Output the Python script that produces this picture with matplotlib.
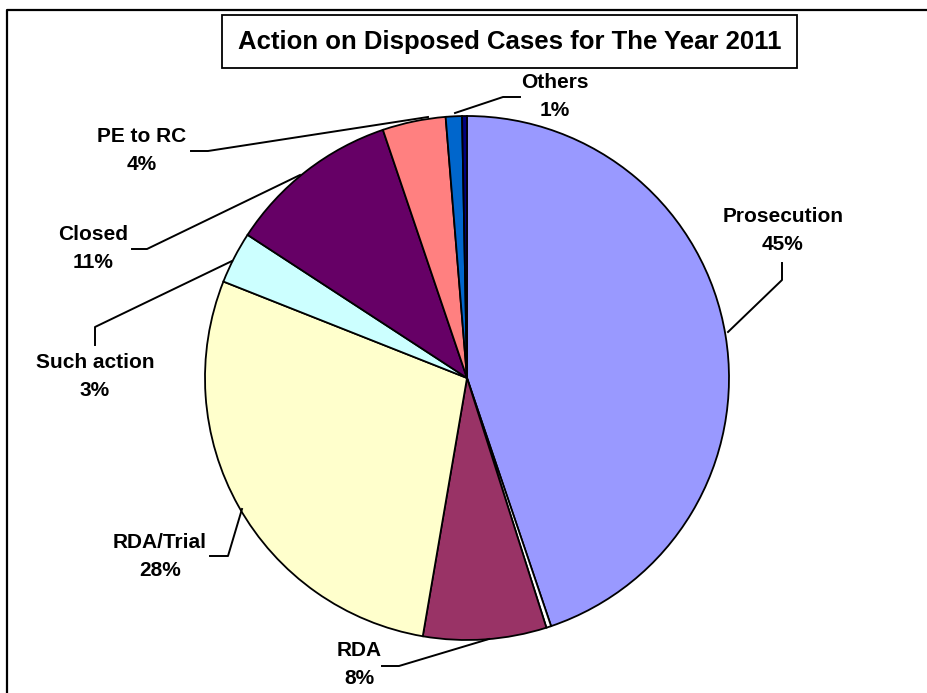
import matplotlib
matplotlib.use('Agg')
from matplotlib import pyplot as plt
from matplotlib.patches import Rectangle

plt.rcParams['font.family'] = ['Liberation Sans', 'DejaVu Sans']

# slices, clockwise from 12 o'clock
categories = ['Prosecution', '', 'RDA', 'RDA/Trial', 'Such action',
              'Closed', 'PE to RC', 'Others', '']
values = [44.8, 0.3, 7.6, 28.3, 3.2, 10.6, 3.9, 1.0, 0.3]
colors = ['#9999FF', '#FFFFFF', '#993366', '#FFFFCC', '#CCFFFF',
          '#660066', '#FF8080', '#0066CC', '#000080']

W, H = 927, 693

def py(y):
    # pixel row (from top) -> data y
    return H - y

fig = plt.figure(figsize=(9.27, 6.93), dpi=100)
ax = fig.add_axes([0, 0, 1, 1])
ax.axis('off')

ax.pie(values, colors=colors, startangle=90, counterclock=False,
       center=(467, py(378)), radius=262,
       wedgeprops=dict(edgecolor='black', linewidth=1.3))
ax.set_xlim(0, W)
ax.set_ylim(0, H)
ax.set_aspect('auto')

# outer chart frame
ax.plot([7, 7, W + 5], [py(H + 5), py(10), py(10)], color='black', lw=1.6,
        clip_on=False)

# title box
ax.add_patch(Rectangle((222, py(68)), 575, 53, facecolor='white',
                       edgecolor='black', lw=1.3))
ax.text(510, py(42), 'Action on Disposed Cases for The Year 2011',
        ha='center', va='center', fontsize=18.5, fontweight='bold')

# label text centre and leader polyline (pixel coords)
label_pos = {
    'Prosecution': ((783, 230), [(728, 332), (782, 280), (782, 263)]),
    'RDA': ((359, 664), [(489, 639), (399, 666), (382, 666)]),
    'RDA/Trial': ((160, 556), [(242, 509), (228, 556), (210, 556)]),
    'Such action': ((95, 377), [(232, 261), (95, 327), (95, 345)]),
    'Closed': ((93, 249), [(300, 175), (147, 249), (132, 249)]),
    'PE to RC': ((142, 150), [(428, 117), (208, 151), (191, 151)]),
    'Others': ((555, 97), [(455, 113), (503, 97), (520, 97)]),
}

for name, val in zip(categories, values):
    if name not in label_pos:
        continue
    (tx, ty), pts = label_pos[name]
    ax.text(tx, py(ty), f'{name}\n{round(val)}%', ha='center', va='center',
            fontsize=15, fontweight='bold', linespacing=1.6)
    ax.plot([p[0] for p in pts], [py(p[1]) for p in pts], color='black',
            lw=1.4)

fig.savefig('out.png', dpi=100)
